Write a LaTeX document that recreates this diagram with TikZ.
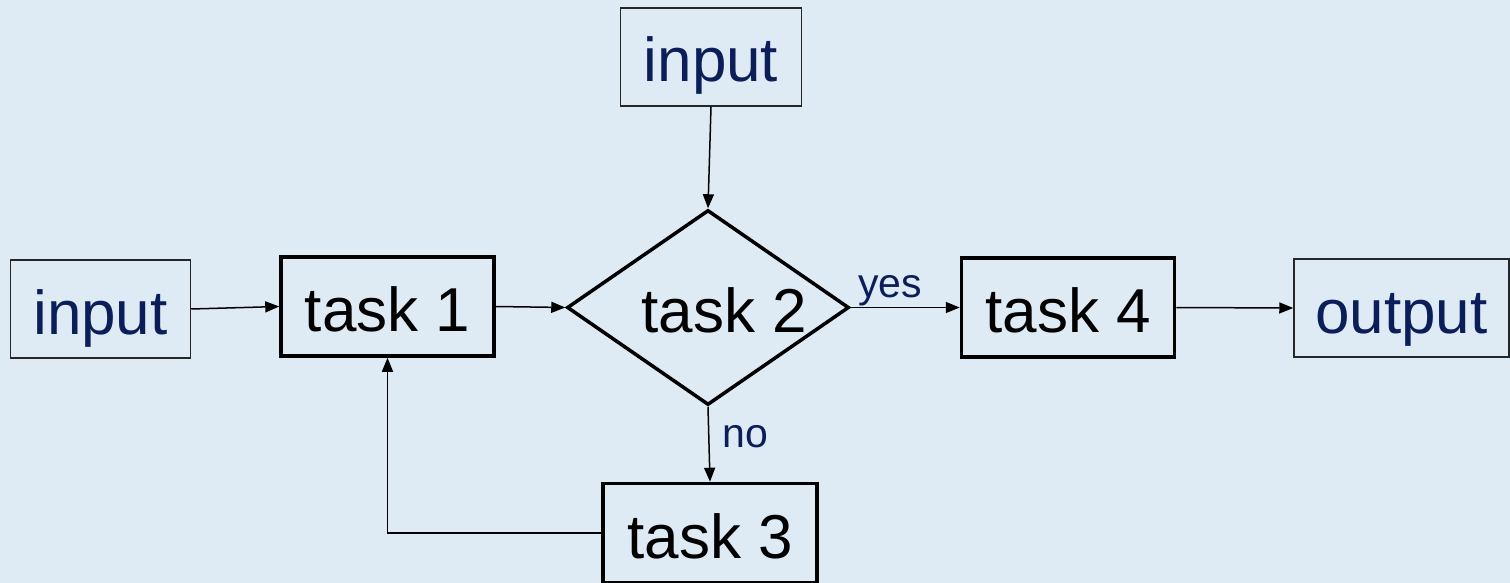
\documentclass[tikz,border=0pt]{standalone}
\usepackage{fontspec}
\setmainfont{Liberation Sans}
\usetikzlibrary{shapes.geometric,arrows.meta}
\definecolor{bg}{RGB}{222,235,244}
\definecolor{navy}{RGB}{12,30,90}
\begin{document}
\begin{tikzpicture}[x=1pt,y=-1pt,
  every node/.style={inner sep=0pt},
  big/.style={font=\fontsize{62}{62}\selectfont, text height=50pt, text depth=0pt},
  iobox/.style={big, rectangle, draw=black!85, line width=1.5pt, text=navy},
  taskbox/.style={big, rectangle, draw=black, line width=3.5pt, text=black},
  lbl/.style={font=\fontsize{41}{41}\selectfont, text=navy, anchor=base west},
  conn/.style={draw=black, line width=1.5pt, -{Triangle[length=14pt,width=11pt]}}
]
\fill[bg] (0,0) rectangle (1510,583);
\useasboundingbox (0,0) rectangle (1510,583);

\node[iobox, minimum width=180pt, minimum height=98pt] (in1) at (100.5,309) {input};
\node[taskbox, minimum width=213pt, minimum height=99pt] (t1) at (387.5,306.5) {task 1};
\node[diamond, draw=black, line width=3.5pt, minimum width=282pt, minimum height=195pt] (d) at (708,307.5) {};
\node[big, text=black] (d2text) at (724,307.5) {task 2};
\node[iobox, minimum width=181pt, minimum height=98pt] (inT) at (711,57) {input};
\node[taskbox, minimum width=213pt, minimum height=99pt] (t4) at (1068,307.5) {task 4};
\node[iobox, minimum width=215pt, minimum height=98pt] (out) at (1401.5,308) {output};
\node[taskbox, minimum width=214pt, minimum height=99pt] (t3) at (710,533) {task 3};

\node[lbl] (yes) at (858,297) {yes};
\node[lbl] (no) at (722,447) {no};

\draw[conn] (in1.east) -- (t1.west);
\draw[conn] (t1.east) -- (d.west);
\draw[conn] (inT.south) -- (d.north);
\draw[conn] (d.east) -- (t4.west);
\draw[conn] (d.south) -- (t3.north);
\draw[conn] (t4.east) -- (out.west);
\draw[conn] (t3.west) -| (t1.south);
\end{tikzpicture}
\end{document}
